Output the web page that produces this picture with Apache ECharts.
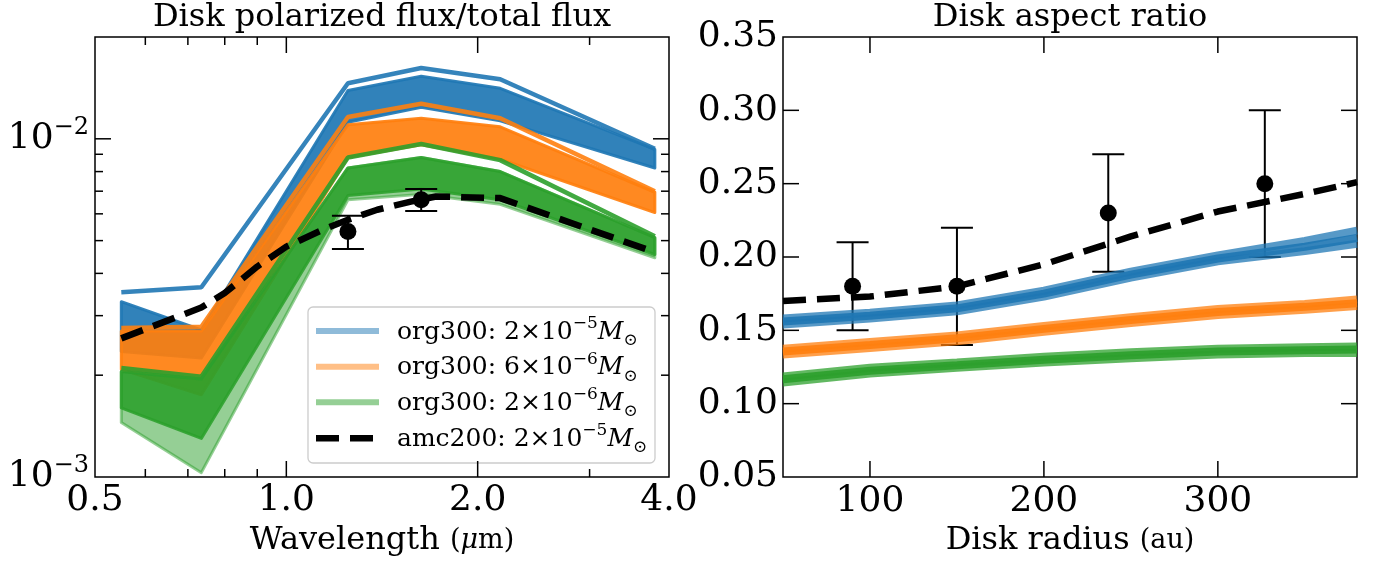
<!DOCTYPE html>
<html><head><meta charset="utf-8">
<script src="https://cdn.jsdelivr.net/npm/echarts@6/dist/echarts.min.js"></script>
<style>html,body{margin:0;padding:0;background:#fff}#c{width:1377px;height:561px}</style>
</head><body><div id="c"></div>
<script>
// ---------- LEFT PANEL DATA (polarized flux / total flux) ----------
const wavelengths = [0.55, 0.735, 1.25, 1.63, 2.17, 3.8];
const blueTopLine   = [3.52e-3, 3.64e-3, 1.46e-2, 1.62e-2, 1.50e-2, 9.35e-3];
const blueUpper     = [3.30e-3, 2.72e-3, 1.39e-2, 1.53e-2, 1.41e-2, 9.30e-3];
const blueLower     = [2.35e-3, 2.25e-3, 1.12e-2, 1.24e-2, 1.13e-2, 8.20e-3];
const orangeTopLine = [2.76e-3, 2.78e-3, 1.16e-2, 1.27e-2, 1.15e-2, 7.00e-3];
const orangeUpper   = [2.70e-3, 2.70e-3, 1.10e-2, 1.15e-2, 1.085e-2, 6.95e-3];
const orangeLower   = [2.08e-3, 1.75e-3, 8.80e-3, 9.60e-3, 8.70e-3, 6.05e-3];
const greenTopLine  = [2.10e-3, 1.98e-3, 8.80e-3, 9.65e-3, 8.65e-3, 5.15e-3];
const greenUpper    = [2.05e-3, 1.95e-3, 8.20e-3, 8.80e-3, 8.00e-3, 5.10e-3];
const greenCoreLow  = [1.60e-3, 1.30e-3, 6.80e-3, 7.10e-3, 6.60e-3, 4.55e-3];
const greenLower    = [1.45e-3, 1.03e-3, 6.60e-3, 6.85e-3, 6.40e-3, 4.45e-3];
const amcWl  = [0.55, 0.735, 0.8, 0.9, 1.0, 1.14, 1.25, 1.39, 1.57, 1.72, 2.17, 3.8];
const amcVal = [2.57e-3, 3.17e-3, 3.50e-3, 4.19e-3, 4.80e-3, 5.38e-3, 5.76e-3, 6.17e-3, 6.52e-3, 6.75e-3, 6.68e-3, 4.62e-3];
const obsWl  = [1.25, 1.63];
const obsVal = [5.32e-3, 6.60e-3];
const obsLo  = [4.72e-3, 6.12e-3];
const obsHi  = [5.92e-3, 7.10e-3];
const leftXLabels = [[0.5, '0.5'], [1, '1.0'], [2, '2.0'], [4, '4.0']];
const leftXMajor = [1, 2];
const leftXMinor = [0.6, 0.7, 0.8, 0.9, 3];
const leftYMajor = [0.01];
const leftYMinor = [0.002, 0.003, 0.004, 0.005, 0.006, 0.007, 0.008, 0.009];
const leftYLabels = [[0.01, '−2'], [0.001, '−3']];

// ---------- RIGHT PANEL DATA (aspect ratio) ----------
const radius   = [50, 100, 150, 200, 250, 300, 350, 380];
const blueHi   = [0.158, 0.162, 0.167, 0.177, 0.190, 0.201, 0.211, 0.218];
const blueMid  = [0.156, 0.160, 0.165, 0.175, 0.188, 0.199, 0.207, 0.213];
const blueLo   = [0.154, 0.158, 0.163, 0.173, 0.186, 0.197, 0.204, 0.209];
const orangeHi = [0.1375, 0.142, 0.1465, 0.153, 0.159, 0.1645, 0.168, 0.171];
const orangeMid= [0.1355, 0.140, 0.1446, 0.151, 0.157, 0.1625, 0.166, 0.1685];
const orangeLo = [0.1335, 0.138, 0.1425, 0.149, 0.155, 0.1605, 0.164, 0.1665];
const greenHi  = [0.1185, 0.1245, 0.128, 0.132, 0.135, 0.1375, 0.1385, 0.139];
const greenMid = [0.1166, 0.1225, 0.1262, 0.130, 0.133, 0.1355, 0.1365, 0.137];
const greenLo  = [0.1145, 0.1205, 0.1245, 0.128, 0.131, 0.1335, 0.1345, 0.1345];
const amcRad   = [50, 100, 150, 200, 250, 300, 350, 380];
const amcAsp   = [0.170, 0.173, 0.180, 0.195, 0.214, 0.231, 0.243, 0.251];
const obsRad   = [90, 150, 237, 327];
const obsAsp   = [0.18, 0.18, 0.23, 0.25];
const obsAspLo = [0.15, 0.14, 0.19, 0.20];
const obsAspHi = [0.21, 0.22, 0.27, 0.30];
const rightXTicks = [100, 200, 300];
const rightYTicks = [0.10, 0.15, 0.20, 0.25, 0.30];

const FONT = 'DejaVu Serif';
const C_BLUE = '#1f77b4', C_ORANGE = '#ff7f0e', C_GREEN = '#2ca02c';

function band(upper, lower, color, opacity, z) {
  return {
    type: 'custom', xAxisIndex: 0, yAxisIndex: 0, silent: true, z: z,
    data: [[wavelengths[0], upper[0]]],
    renderItem: function (params, api) {
      const pts = [];
      for (let i = 0; i < wavelengths.length; i++) pts.push(api.coord([wavelengths[i], upper[i]]));
      for (let i = wavelengths.length - 1; i >= 0; i--) pts.push(api.coord([wavelengths[i], lower[i]]));
      return { type: 'polygon', shape: { points: pts },
        style: { fill: color, stroke: color, lineWidth: 3, lineJoin: 'round', opacity: opacity } };
    }
  };
}
function pairs(xs, ys) { return xs.map((x, i) => [x, ys[i]]); }
function topLine(ys, color, z) {
  return { type: 'line', xAxisIndex: 0, yAxisIndex: 0, data: pairs(wavelengths, ys), symbol: 'none',
    lineStyle: { color: color, width: 4.5, opacity: 0.9 }, z: z, silent: true };
}
function errBars(xi, yi, xs, lo, hi, z) {
  return {
    type: 'custom', xAxisIndex: xi, yAxisIndex: yi, silent: true, z: z,
    data: xs.map((x, i) => [x, lo[i], hi[i]]),
    encode: { x: 0, y: [1, 2] },
    renderItem: function (params, api) {
      const x = api.value(0);
      const a = api.coord([x, api.value(1)]);
      const b = api.coord([x, api.value(2)]);
      const cw = 16, st = { stroke: '#000', lineWidth: 2 };
      return { type: 'group', children: [
        { type: 'line', shape: { x1: a[0], y1: a[1], x2: b[0], y2: b[1] }, style: st },
        { type: 'line', shape: { x1: a[0] - cw, y1: a[1], x2: a[0] + cw, y2: a[1] }, style: st },
        { type: 'line', shape: { x1: b[0] - cw, y1: b[1], x2: b[0] + cw, y2: b[1] }, style: st }
      ] };
    }
  };
}
function rline(ys, color, op) {
  return { type: 'line', xAxisIndex: 1, yAxisIndex: 1, data: pairs(radius, ys), symbol: 'none',
    lineStyle: { color: color, width: 8, opacity: op }, z: 5, silent: true };
}

const chart = echarts.init(document.getElementById('c'));
const option = {
  animation: false,
  grid: [
    { left: 95, top: 37, width: 574, height: 440, show: true, borderColor: '#000', borderWidth: 1.5, backgroundColor: 'transparent' },
    { left: 783, top: 37, width: 574, height: 440, show: true, borderColor: '#000', borderWidth: 1.5, backgroundColor: 'transparent' }
  ],
  xAxis: [
    { type: 'log', gridIndex: 0, min: 0.5, max: 4, logBase: 10, axisLine: { show: false }, axisTick: { show: false },
      axisLabel: { show: false }, splitLine: { show: false }, minorTick: { show: false } },
    { type: 'value', gridIndex: 1, min: 50, max: 380, interval: 50, axisLine: { show: false }, axisTick: { show: false },
      splitLine: { show: false },
      axisLabel: { show: true, fontFamily: FONT, fontSize: 36, color: '#000', margin: 7,
        formatter: v => (v % 100 === 0 ? String(v) : '') } }
  ],
  yAxis: [
    { type: 'log', gridIndex: 0, min: 0.001, max: 0.02, logBase: 10, axisLine: { show: false }, axisTick: { show: false },
      axisLabel: { show: false }, splitLine: { show: false } },
    { type: 'value', gridIndex: 1, min: 0.05, max: 0.35, interval: 0.05, axisLine: { show: false }, axisTick: { show: false },
      splitLine: { show: false },
      axisLabel: { show: true, fontFamily: FONT, fontSize: 36, color: '#000', margin: 5,
        formatter: v => v.toFixed(2) } }
  ],
  series: [
    band(blueUpper, blueLower, C_BLUE, 0.92, 2),
    topLine(blueTopLine, C_BLUE, 2),
    band(orangeUpper, orangeLower, C_ORANGE, 0.92, 3),
    topLine(orangeTopLine, C_ORANGE, 3),
    band(greenUpper, greenLower, C_GREEN, 0.5, 4),
    band(greenUpper, greenCoreLow, C_GREEN, 0.88, 4),
    topLine(greenTopLine, C_GREEN, 4),
    { type: 'line', xAxisIndex: 0, yAxisIndex: 0, data: pairs(amcWl, amcVal), symbol: 'none',
      lineStyle: { color: '#000', width: 6.5, type: [23, 11] }, z: 6, silent: true },
    errBars(0, 0, obsWl, obsLo, obsHi, 7),
    { type: 'scatter', xAxisIndex: 0, yAxisIndex: 0, data: pairs(obsWl, obsVal), symbol: 'circle', symbolSize: 17,
      itemStyle: { color: '#000', opacity: 1 }, z: 8, silent: true },

    errBars(1, 1, obsRad, obsAspLo, obsAspHi, 3),
    { type: 'line', xAxisIndex: 1, yAxisIndex: 1, data: pairs(amcRad, amcAsp), symbol: 'none',
      lineStyle: { color: '#000', width: 6.5, type: [23, 11] }, z: 4, silent: true },
    rline(blueHi, C_BLUE, 0.75), rline(blueLo, C_BLUE, 0.75), rline(blueMid, C_BLUE, 0.9),
    rline(orangeHi, C_ORANGE, 0.75), rline(orangeLo, C_ORANGE, 0.75), rline(orangeMid, C_ORANGE, 0.9),
    rline(greenHi, C_GREEN, 0.75), rline(greenLo, C_GREEN, 0.75), rline(greenMid, C_GREEN, 0.9),
    { type: 'scatter', xAxisIndex: 1, yAxisIndex: 1, data: pairs(obsRad, obsAsp), symbol: 'circle', symbolSize: 17,
      itemStyle: { color: '#000', opacity: 1 }, z: 8, silent: true }
  ]
};
chart.setOption(option);

// ---------- ticks, labels, titles, legend ----------
const gfx = [];
const TICK = { stroke: '#000', lineWidth: 1.5 };
function L(x1, y1, x2, y2) { gfx.push({ type: 'line', silent: true, z: 60, shape: { x1, y1, x2, y2 }, style: TICK }); }
const lx = v => chart.convertToPixel({ xAxisIndex: 0 }, v);
const ly = v => chart.convertToPixel({ yAxisIndex: 0 }, v);
const rx = v => chart.convertToPixel({ xAxisIndex: 1 }, v);
const ry = v => chart.convertToPixel({ yAxisIndex: 1 }, v);
const LT = 37, LB = 477, LL = 95, LR = 669, RL = 783, RR = 1357;

leftXMajor.forEach(v => { const x = lx(v); L(x, LB, x, LB - 16); L(x, LT, x, LT + 16); });
leftXMinor.forEach(v => { const x = lx(v); L(x, LB, x, LB - 8); L(x, LT, x, LT + 8); });
leftYMajor.forEach(v => { const y = ly(v); L(LL, y, LL + 16, y); L(LR, y, LR - 16, y); });
leftYMinor.forEach(v => { const y = ly(v); L(LL, y, LL + 8, y); L(LR, y, LR - 8, y); });
rightXTicks.forEach(v => { const x = rx(v); L(x, LB, x, LB - 16); L(x, LT, x, LT + 16); });
rightYTicks.forEach(v => { const y = ry(v); L(RL, y, RL + 16, y); L(RR, y, RR - 16, y); });

leftXLabels.forEach(([v, t]) => {
  gfx.push({ type: 'text', x: lx(v), y: LB + 6, z: 60, silent: true,
    style: { text: t, fontFamily: FONT, fontSize: 36, fill: '#000', align: 'center', verticalAlign: 'top' } });
});
leftYLabels.forEach(([v, e]) => {
  gfx.push({ type: 'text', x: LL - 6, y: ly(v), z: 60, silent: true,
    style: { text: '{b|10}{s|' + e + '}', align: 'right', verticalAlign: 'middle',
      rich: { b: { fontFamily: FONT, fontSize: 36, lineHeight: 46, fill: '#000' },
              s: { fontFamily: FONT, fontSize: 24, lineHeight: 26, verticalAlign: 'top', fill: '#000' } } } });
});
// titles
gfx.push({ type: 'text', x: (LL + LR) / 2, y: 18, z: 60, silent: true,
  style: { text: 'Disk polarized flux/total flux', fontFamily: FONT, fontSize: 32, fill: '#000', align: 'center', verticalAlign: 'middle' } });
gfx.push({ type: 'text', x: (RL + RR) / 2, y: 18, z: 60, silent: true,
  style: { text: 'Disk aspect ratio', fontFamily: FONT, fontSize: 32, fill: '#000', align: 'center', verticalAlign: 'middle' } });
// axis names
gfx.push({ type: 'text', x: (LL + LR) / 2, y: 541, z: 60, silent: true,
  style: { text: '{a|Wavelength }{b|(}{i|μ}{b|m)}', align: 'center', verticalAlign: 'middle',
    rich: { a: { fontFamily: FONT, fontSize: 32, fill: '#000' }, b: { fontFamily: FONT, fontSize: 27, fill: '#000' },
            i: { fontFamily: FONT, fontSize: 27, fontStyle: 'italic', fill: '#000' } } } });
gfx.push({ type: 'text', x: (RL + RR) / 2, y: 541, z: 60, silent: true,
  style: { text: '{a|Disk radius }{b|(au)}', align: 'center', verticalAlign: 'middle',
    rich: { a: { fontFamily: FONT, fontSize: 32, fill: '#000' }, b: { fontFamily: FONT, fontSize: 27, fill: '#000' } } } });

// legend
gfx.push({ type: 'rect', z: 50, silent: true, shape: { x: 308, y: 307, width: 347, height: 156, r: 5 },
  style: { fill: 'rgba(255,255,255,0.8)', stroke: '#cccccc', lineWidth: 1.3 } });
const legendRows = [
  { y: 331, color: 'rgba(31,119,180,0.5)', dash: null, name: 'org300', m: '2', e: '−5' },
  { y: 366.7, color: 'rgba(255,127,14,0.5)', dash: null, name: 'org300', m: '6', e: '−6' },
  { y: 402.3, color: 'rgba(44,160,44,0.5)', dash: null, name: 'org300', m: '2', e: '−6' },
  { y: 438.3, color: '#000', dash: [23, 11], name: 'amc200', m: '2', e: '−5' }
];
legendRows.forEach(r => {
  gfx.push({ type: 'line', z: 51, silent: true, shape: { x1: 316, y1: r.y, x2: 379, y2: r.y },
    style: { stroke: r.color, lineWidth: r.dash ? 6.5 : 6, lineDash: r.dash || null } });
  gfx.push({ type: 'text', x: 397, y: r.y + 1, z: 51, silent: true,
    style: { text: '{a|' + r.name + ': ' + r.m + '×10}{s|' + r.e + '}{m|M}{o|⊙}', align: 'left', verticalAlign: 'middle',
      rich: { a: { fontFamily: FONT, fontSize: 25, lineHeight: 34, fill: '#000' },
              s: { fontFamily: FONT, fontSize: 17, lineHeight: 20, verticalAlign: 'top', fill: '#000' },
              m: { fontFamily: FONT, fontSize: 25, lineHeight: 34, fontStyle: 'italic', fill: '#000' },
              o: { fontFamily: FONT, fontSize: 17, lineHeight: 20, verticalAlign: 'bottom', fill: '#000' } } } });
});
chart.setOption({ graphic: gfx });
</script>
</body></html>
